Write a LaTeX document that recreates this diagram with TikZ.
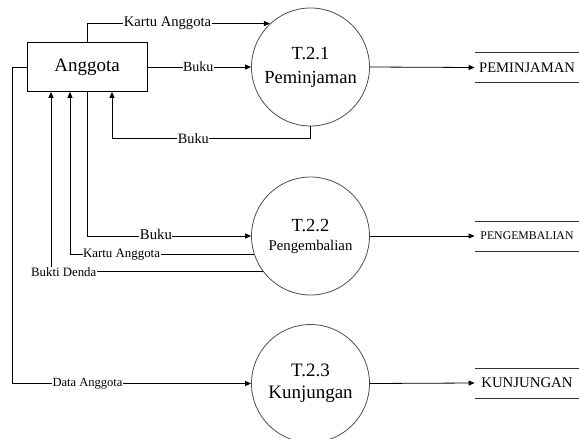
\documentclass[tikz,border=0pt]{standalone}
\usepackage{fontspec}
\setmainfont{LiberationSerif}[Extension=.ttf, UprightFont=*-Regular, BoldFont=*-Bold]
\usetikzlibrary{arrows.meta,calc}
\newcommand{\fs}[1]{\rmfamily\fontsize{#1}{#1}\selectfont}
\begin{document}
\begin{tikzpicture}[x=1pt,y=-1pt,
  line width=0.8pt,
  arr/.style={-{Triangle[length=6pt,width=5pt]}},
  entity/.style={draw, minimum width=120pt, minimum height=49pt, inner sep=0pt, font=\fs{19}},
  proc/.style={draw=black!70, circle, minimum size=118pt, inner sep=0pt, align=center},
  store/.style={minimum width=104pt, minimum height=29pt, inner sep=0pt},
  lbl/.style={fill=white, inner sep=0.5pt}]
\useasboundingbox (0,0) rectangle (579,439);

% external entity
\node[entity] (anggota) at (87,67) {Anggota};
\coordinate (inBuku)  at ($(anggota.south)+(25,0)$);
\coordinate (inKartu) at ($(anggota.south)+(-17,0)$);
\coordinate (inDenda) at ($(anggota.south)+(-36,0)$);

% processes
\node[proc, font=\rmfamily\fontsize{18.5}{24}\selectfont] (c1) at (310.5,67) {T.2.1\\Peminjaman};
\node[proc, font=\rmfamily\fontsize{18.5}{19}\selectfont] (c2) at (310.5,236) {T.2.2\\{\fontsize{14.8}{18}\selectfont Pengembalian}};
\node[proc, font=\rmfamily\fontsize{19}{22}\selectfont] (c3) at (310.5,383.5) {T.2.3\\Kunjungan};

% data stores
\node[store, font=\fs{14.6}] (s1) at (527,67.5) {PEMINJAMAN};
\node[store, font=\fs{11.8}] (s2) at (527,236) {PENGEMBALIAN};
\node[store, font=\fs{14.8}] (s3) at (527,383) {KUNJUNGAN};
\foreach \s in {s1,s2,s3}{
  \draw[black!80] (\s.north west) -- (\s.north east);
  \draw[black!80] (\s.south west) -- (\s.south east);
}

% flows to and from T.2.1
\draw[arr] (anggota.north) |- node[lbl, pos=0.72, font=\fs{14.6}] {Kartu Anggota} (c1.133);
\draw[arr] (anggota.east) -- node[lbl, pos=0.49, font=\fs{14}] {Buku} (c1.west);
\coordinate (rb) at ($(c1.south)+(0,12)$);
\draw[arr] (c1.south) -- (rb) -- node[lbl, pos=0.59, font=\fs{14.3}] {Buku} (rb -| inBuku) -- (inBuku);

% flows to and from T.2.2
\draw[arr] (anggota.south) |- node[lbl, pos=0.71, yshift=2pt, font=\fs{14.8}] {Buku} (c2.west);
\draw[arr] (c2.198) -| node[lbl, pos=0.36, font=\fs{12.9}] {Kartu Anggota} (inKartu);
\draw[arr] (c2.217.6) -| node[lbl, pos=0.47, font=\fs{12.8}] {Bukti Denda} (inDenda);

% flow to T.2.3
\coordinate (da) at ($(anggota.west)+(-14,0)$);
\draw[arr] (anggota.west) -- (da) |- node[lbl, pos=0.657, font=\fs{12.5}] {Data Anggota} (c3.west);

% outputs to stores
\draw[arr] (c1.east) -- (s1.west);
\draw[arr] (c2.east) -- (s2.west);
\draw[arr] (c3.east) -- (s3.west);
\end{tikzpicture}
\end{document}
